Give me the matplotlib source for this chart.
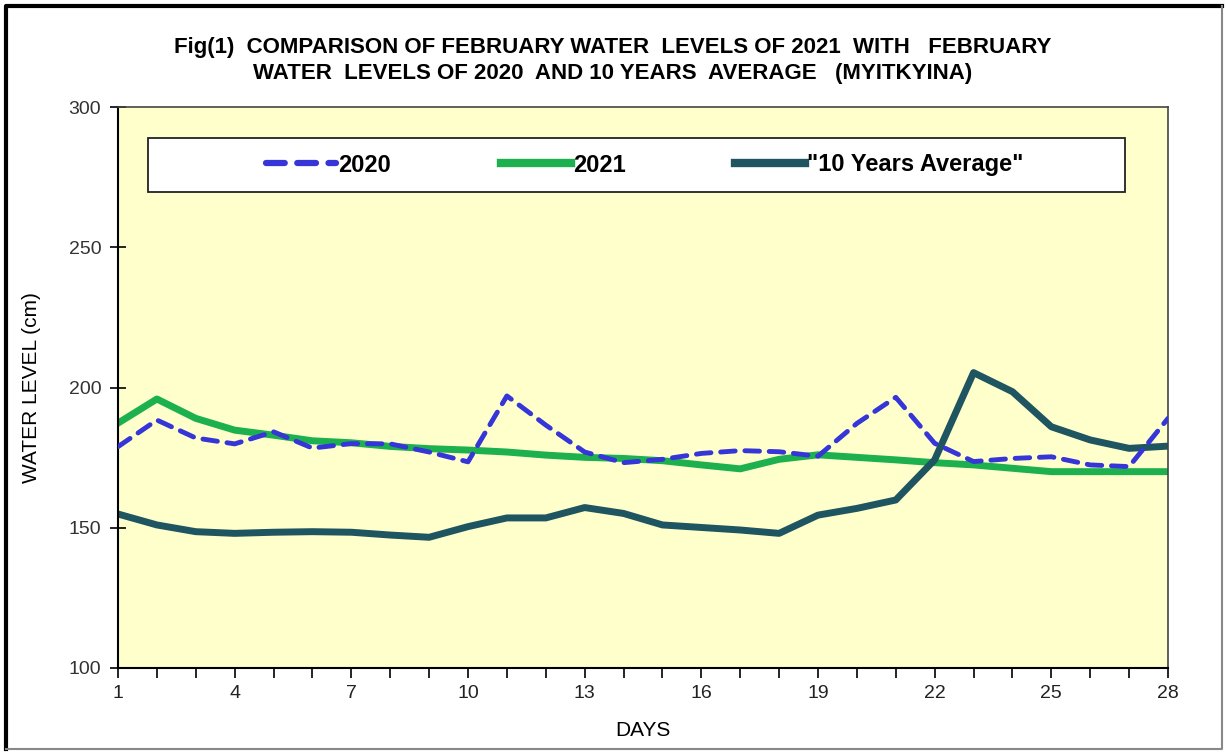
import matplotlib.pyplot as plt
from matplotlib.patches import Rectangle
from matplotlib.lines import Line2D

plt.rcParams['font.family'] = ['Liberation Sans', 'DejaVu Sans']

days = list(range(1, 29))
level_2020 = [178.9, 188.4, 182.0, 179.9, 184.2, 178.4, 180.0, 179.9, 177.0, 173.5,
              197.0, 186.6, 177.0, 173.2, 174.4, 176.5, 177.5, 177.1, 175.5, 187.2,
              196.5, 180.1, 173.6, 174.7, 175.3, 172.4, 171.8, 189.0]
level_2021 = [187.3, 195.9, 189.0, 184.8, 183.0, 181.0, 180.3, 179.0, 178.2, 177.7,
              177.0, 175.9, 175.1, 174.7, 173.9, 172.4, 171.0, 174.4, 176.0, 175.1,
              174.2, 173.2, 172.4, 171.2, 170.0, 170.0, 170.0, 170.0]
avg_10yr = [154.9, 151.0, 148.6, 148.0, 148.4, 148.6, 148.4, 147.4, 146.6, 150.4,
            153.5, 153.5, 157.2, 155.1, 151.0, 150.1, 149.2, 148.0, 154.5, 156.9,
            159.9, 174.2, 205.3, 198.5, 186.0, 181.3, 178.3, 179.1]

x_labels = [1, 4, 7, 10, 13, 16, 19, 22, 25, 28]

fig = plt.figure(figsize=(12.26, 7.54), dpi=100)
ax = fig.add_axes([118 / 1226, 1 - 668 / 754, 1050 / 1226, 561 / 754])
ax.set_facecolor('#FFFFCC')

ax.plot(days, level_2020, color='#3535D8', lw=3.5, ls=(0, (3, 2)), label='2020',
        solid_capstyle='round', dash_capstyle='round', zorder=3)
ax.plot(days, level_2021, color='#1DB04E', lw=5, label='2021',
        solid_joinstyle='round', zorder=2)
ax.plot(days, avg_10yr, color='#1E5560', lw=5, label='"10 Years Average"',
        solid_joinstyle='round', zorder=2)

ax.set_xlim(1, 28)
ax.set_ylim(100, 300)
ax.set_xticks(x_labels)
ax.set_xticks(days, minor=True)
ax.set_yticks([100, 150, 200, 250, 300])
ax.tick_params(axis='x', which='both', direction='out', length=7, width=1.2,
               labelsize=14, colors='black', labelcolor='#222222', pad=5)
ax.tick_params(axis='y', direction='inout', length=12, width=1.2,
               labelsize=14, labelcolor='#333333', pad=6)
for side in ['left', 'bottom']:
    ax.spines[side].set_linewidth(1.5)
for side in ['top', 'right']:
    ax.spines[side].set_linewidth(1.2)
    ax.spines[side].set_color('#444444')

ax.set_xlabel('DAYS', fontsize=15, labelpad=14)
ax.set_ylabel('WATER LEVEL (cm)', fontsize=15, labelpad=20)

# legend box
ax.add_patch(Rectangle((30 / 1050, (668 - 192) / 561), 977 / 1050, 54 / 561,
                       transform=ax.transAxes, facecolor='white',
                       edgecolor='#222222', lw=1.3, zorder=4))
leg = ax.legend(loc='center', bbox_to_anchor=(0.502, (668 - 165) / 561), ncol=3,
                frameon=False, handlelength=2.95, handletextpad=0.1,
                columnspacing=4.65, prop={'weight': 'bold', 'size': 17})
leg.set_zorder(5)
for h in leg.get_lines():
    h.set_linewidth(h.get_linewidth() + 1)

fig.text(0.5, 1 - 47 / 754, 'Fig(1)  COMPARISON OF FEBRUARY WATER  LEVELS OF 2021  WITH   FEBRUARY',
         ha='center', va='center', fontsize=16, fontweight='bold')
fig.text(0.5, 1 - 73 / 754, 'WATER  LEVELS OF 2020  AND 10 YEARS  AVERAGE   (MYITKYINA)',
         ha='center', va='center', fontsize=16, fontweight='bold')

# outer frame: heavy top/left, light right/bottom
fig.add_artist(Line2D([6 / 1226, 6 / 1226, 1222 / 1226], [1 - 749 / 754, 1 - 6 / 754, 1 - 6 / 754],
                      transform=fig.transFigure, color='black', lw=3))
fig.add_artist(Line2D([6 / 1226, 1222 / 1226, 1222 / 1226], [1 - 749 / 754, 1 - 749 / 754, 1 - 6 / 754],
                      transform=fig.transFigure, color='#888888', lw=1.5))

fig.savefig('out.png', dpi=100)
